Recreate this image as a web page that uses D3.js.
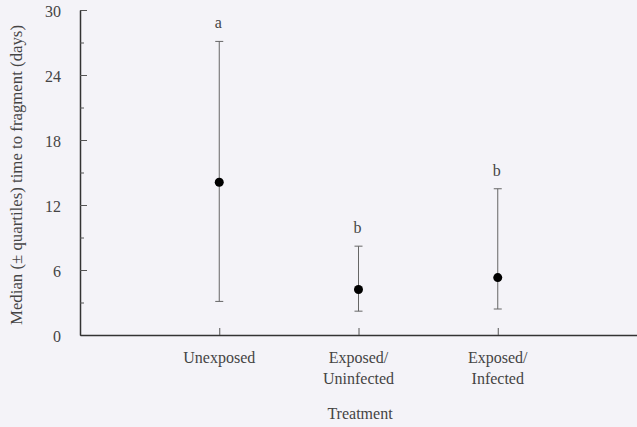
<!DOCTYPE html>
<html>
<head>
<meta charset="utf-8">
<script src="https://cdn.jsdelivr.net/npm/d3@7"></script>
<style>
html,body{margin:0;padding:0;background:#f4f3f8;}
svg{display:block;}
svg text{font-family:"Liberation Serif","Times New Roman",Times,serif;fill:#444;}
</style>
</head>
<body>
<svg id="chart" width="637" height="427"></svg>
<script>
const categories = ["Unexposed", "Exposed/Uninfected", "Exposed/Infected"];
const labelLines = [["Unexposed"], ["Exposed/", "Uninfected"], ["Exposed/", "Infected"]];
const medians = [14.1, 4.2, 5.3];
const lowerQ = [3.1, 2.2, 2.4];
const upperQ = [27.1, 8.2, 13.5];
const groupLetters = ["a", "b", "b"];
const yTicks = [0, 6, 12, 18, 24, 30];
const yMinorTicks = [3, 9, 15, 21, 27];

const FONT = "'Liberation Serif', 'Times New Roman', Times, serif";
const svg = d3.select("#chart");
const x = d3.scalePoint().domain(categories).range([80, 637]).padding(1);
const y = d3.scaleLinear().domain([0, 30]).range([335, 10]);

// Y axis
const yAxis = svg.append("g").attr("transform", "translate(80,0)")
  .call(d3.axisLeft(y).tickValues(yTicks).tickSizeInner(-7).tickSizeOuter(0).tickPadding(19));
yAxis.attr("font-family", FONT);
yAxis.select(".domain").attr("stroke", "#333").attr("stroke-width", 1.5);
yAxis.selectAll(".tick line").attr("stroke", "#555");
yAxis.selectAll(".tick text").attr("font-size", 16).attr("fill", "#444").attr("dy", "0.4em");

const yMinor = svg.append("g").attr("transform", "translate(80,0)")
  .call(d3.axisLeft(y).tickValues(yMinorTicks).tickSizeInner(-4).tickSizeOuter(0).tickFormat(""));
yMinor.select(".domain").remove();
yMinor.selectAll(".tick line").attr("stroke", "#555");

// X axis
const xAxis = svg.append("g").attr("transform", "translate(0,335)")
  .call(d3.axisBottom(x).tickSizeInner(-7).tickSizeOuter(0).tickFormat(""));
xAxis.select(".domain").attr("stroke", "#333").attr("stroke-width", 1.5);
xAxis.selectAll(".tick line").attr("stroke", "#555");

// X labels
categories.forEach((c, i) => {
  const t = svg.append("text").attr("x", x(c)).attr("y", 363).attr("font-family", FONT)
    .attr("text-anchor", "middle").attr("font-size", 16);
  labelLines[i].forEach((ln, j) => {
    t.append("tspan").attr("x", x(c)).attr("dy", j === 0 ? 0 : 21).text(ln);
  });
});

svg.append("text").attr("x", 360).attr("y", 419).attr("text-anchor", "middle").attr("font-family", FONT)
  .attr("font-size", 16).text("Treatment");

svg.append("text").attr("transform", "translate(22,175) rotate(-90)").attr("font-family", FONT)
  .attr("text-anchor", "middle").attr("font-size", 16.8)
  .text("Median (\u00b1 quartiles) time to fragment (days)");

// Error bars
const g = svg.append("g");
categories.forEach((c, i) => {
  const cx = x(c);
  g.append("line").attr("x1", cx).attr("x2", cx).attr("y1", y(lowerQ[i])).attr("y2", y(upperQ[i]))
    .attr("stroke", "#666").attr("stroke-width", 1);
  [lowerQ[i], upperQ[i]].forEach(v => {
    g.append("line").attr("x1", cx - 4).attr("x2", cx + 4).attr("y1", y(v)).attr("y2", y(v))
      .attr("stroke", "#666").attr("stroke-width", 1);
  });
  g.append("circle").attr("cx", cx).attr("cy", y(medians[i])).attr("r", 4.5).attr("fill", "#000");
  g.append("text").attr("x", cx - 1).attr("y", y(upperQ[i]) - 13).attr("text-anchor", "middle").attr("font-family", FONT)
    .attr("font-size", 16).text(groupLetters[i]);
});
</script>
</body>
</html>
